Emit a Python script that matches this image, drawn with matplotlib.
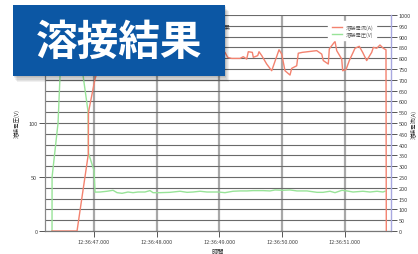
import matplotlib
matplotlib.use("Agg")
import matplotlib.pyplot as plt
from matplotlib.patches import Rectangle
from matplotlib.lines import Line2D

plt.rcParams['font.family'] = ['Noto Sans CJK JP', 'DejaVu Sans']

# time in seconds after 12:36:00
volt_t = [46.330, 46.331, 46.426, 46.458, 46.506, 46.777, 46.825, 46.904, 46.912, 47.000, 47.016,
          47.096, 47.207, 47.303, 47.367, 47.447, 47.542, 47.622, 47.702, 47.813, 47.893, 47.941,
          48.053, 48.212, 48.372, 48.483, 48.579, 48.691, 48.802, 48.978, 49.089, 49.217, 49.329,
          49.440, 49.536, 49.695, 49.807, 49.887, 50.014, 50.126, 50.238, 50.397, 50.557, 50.652,
          50.764, 50.844, 50.955, 51.035, 51.131, 51.290, 51.402, 51.514, 51.609, 51.641]
volt_v = [0, 50, 100, 144, 220, 220, 144, 111, 72, 56, 36,
          36.1, 36.8, 37.7, 35.5, 34.9, 36.1, 35.5, 36.1, 36.1, 37.4, 35.5,
          35.5, 35.8, 36.8, 35.8, 36.1, 36.8, 36.1, 36.1, 35.5, 36.8, 37.1,
          37.1, 37.4, 37.4, 37.1, 38.0, 37.7, 38.0, 37.1, 37.1, 35.8, 35.8,
          36.8, 35.5, 37.7, 37.1, 36.1, 36.8, 36.1, 36.8, 36.1, 36.8]

curr_t = [46.330, 46.729, 46.909, 46.912, 47.016, 47.096, 47.574, 48.053, 48.531, 48.930,
          49.089, 49.132, 49.196, 49.329, 49.381, 49.435, 49.461, 49.525, 49.541, 49.611,
          49.632, 49.675, 49.754, 49.834, 49.951, 49.994, 50.046, 50.126, 50.153, 50.233,
          50.258, 50.322, 50.552, 50.632, 50.657, 50.737, 50.753, 50.844, 50.871, 50.951,
          50.966, 51.019, 51.072, 51.163, 51.231, 51.285, 51.349, 51.429, 51.455, 51.509,
          51.561, 51.614, 51.657, 51.662]
curr_a = [0, 0, 356, 551, 704, 780, 810, 800, 830, 810,
          827, 804, 799, 799, 807, 796, 830, 827, 804, 812,
          830, 812, 773, 742, 839, 819, 742, 722, 753, 765,
          823, 827, 835, 819, 789, 773, 843, 878, 835, 796,
          742, 747, 789, 846, 855, 827, 789, 827, 850, 846,
          861, 846, 839, 0]

x_ticks = [47, 48, 49, 50, 51]
x_labels = ['12:36:47.000', '12:36:48.000', '12:36:49.000', '12:36:50.000', '12:36:51.000']
left_ticks = [0, 50, 100, 150, 200]
right_ticks = list(range(0, 1001, 50))

W, H = 418, 255
fig = plt.figure(figsize=(W / 100, H / 100), dpi=100)
fig.patch.set_facecolor('white')

ax = fig.add_axes([45 / W, 1 - 232 / H, (391 - 45) / W, (232 - 16) / H])
ax2 = ax.twinx()

ax.set_xlim(46.218, 51.737)
ax.set_ylim(0, 200)
ax2.set_ylim(0, 1000)

ax.set_yticks(left_ticks)
ax.set_yticks(list(range(0, 201, 10)), minor=True)
ax.grid(which='both', axis='y', color='#6a6a6a', linewidth=0.8)
ax.set_xticks(x_ticks)
ax.set_xticklabels(x_labels)
ax.grid(which='major', axis='x', color='#a8a8a8', linewidth=1.6)
ax.set_axisbelow(True)
ax.tick_params(axis='y', which='minor', length=0)
ax.tick_params(axis='both', which='major', labelsize=4, colors='#555555', length=4,
               width=0.7, pad=1.5, labelcolor='#444444')

ax2.set_yticks(right_ticks)
ax2.tick_params(axis='y', labelsize=4, colors='#555555', length=4, width=0.7, pad=1.5,
                labelcolor='#444444')

for a in (ax, ax2):
    a.spines['top'].set_visible(False)
    a.spines['left'].set_color('#888888')
    a.spines['bottom'].set_color('#777777')
ax2.spines['right'].set_color('#a8a8e0')
ax2.spines['right'].set_linewidth(1.0)
ax.spines['right'].set_visible(False)

green = '#98e398'
red = '#f3826f'
ax.plot(volt_t, volt_v, color=green, linewidth=1.0, clip_on=True)
ax2.plot(curr_t, curr_a, color=red, linewidth=1.0, clip_on=True)

ax.set_xlabel('時間', fontsize=4.5, color='#333333')
ax.xaxis.set_label_coords((218 - 45) / 346, -(248 - 232) / 216)
ax.set_ylabel('溶接電圧(V)', fontsize=4, color='#333333')
ax.yaxis.set_label_coords(-(45 - 20) / 346, 0.5)
ax2.set_ylabel('溶接電流(A)', fontsize=4, color='#333333')
ax2.yaxis.set_label_coords((411 - 45) / 346, 0.5)

handles = [Line2D([], [], color=red, linewidth=1.0), Line2D([], [], color=green, linewidth=1.0)]
leg = ax2.legend(handles, ['溶接電流(A)', '溶接電圧(V)'], loc='upper right',
                 bbox_to_anchor=(0.965, 0.985), fontsize=3.8, frameon=True, framealpha=1,
                 edgecolor='white', facecolor='white', handlelength=2.0, handletextpad=0.6,
                 borderpad=0.6, labelspacing=0.3, fancybox=False)
for t in leg.get_texts():
    t.set_color('#555555')

# small chart title mostly hidden behind banner
fig.text(231 / W, 1 - 27 / H, '溶接結果', fontsize=4.5, color='#444444', ha='right', va='center')

# banner with soft shadow
for i, alpha in enumerate([0.06, 0.06, 0.06, 0.06, 0.06]):
    off = (i + 1) * 1.2
    fig.patches.append(Rectangle(((13 + off * 0.6) / W, 1 - (77 + off) / H), 212 / W, 71 / H,
                                 transform=fig.transFigure, facecolor='black', alpha=alpha,
                                 edgecolor='none', zorder=9))
fig.patches.append(Rectangle((13 / W, 1 - 77 / H), 212 / W, 71 / H, transform=fig.transFigure,
                             facecolor='#0c57a4', edgecolor='none', zorder=10))
fig.text(119 / W, 1 - 43 / H, '溶接結果', fontsize=30, fontweight='bold', color='white',
         ha='center', va='center', zorder=11)

fig.savefig('out.png', dpi=100, facecolor='white')
